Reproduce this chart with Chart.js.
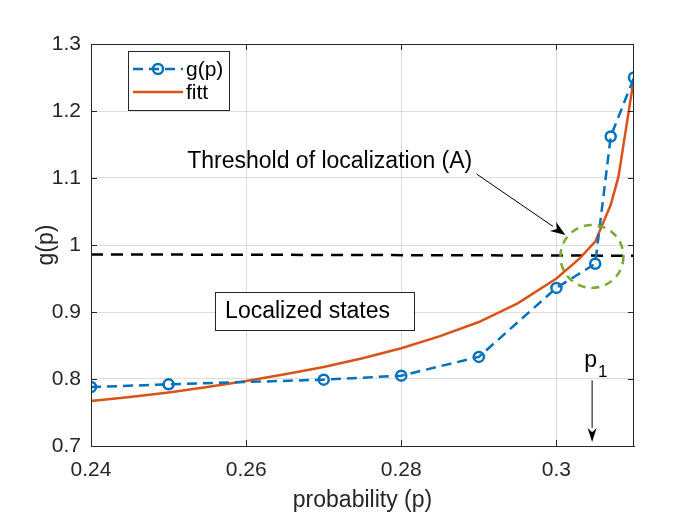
<!DOCTYPE html>
<html>
<head>
<meta charset="utf-8">
<script src="https://cdn.jsdelivr.net/npm/chart.js@4.4.0/dist/chart.umd.min.js"></script>
<style>
  html, body { margin: 0; padding: 0; background: #fff; }
  #wrap { width: 700px; height: 525px; }
</style>
</head>
<body>
<div id="wrap"><canvas id="chart"></canvas></div>
<script>
// données
const probabilite = [0.24, 0.25, 0.27, 0.28, 0.29, 0.30, 0.305, 0.307, 0.31];
const gp = [0.788, 0.792, 0.799, 0.805, 0.833, 0.936, 0.972, 1.162, 1.250];

// courbe ajustée (fitt)
const fitX = [0.24, 0.245, 0.25, 0.255, 0.26, 0.265, 0.27, 0.275, 0.28, 0.285, 0.29, 0.295, 0.30, 0.303, 0.305, 0.307, 0.308, 0.31];
const fitY = [0.767, 0.773, 0.780, 0.788, 0.797, 0.807, 0.818, 0.831, 0.846, 0.864, 0.885, 0.913, 0.950, 0.980, 1.005, 1.060, 1.102, 1.250];

// seuil de localisation (ligne pointillée noire)
const seuilX = [0.24, 0.31];
const seuilY = [0.986, 0.984];

const xTicks = [0.24, 0.26, 0.28, 0.30];
const yTicks = [0.7, 0.8, 0.9, 1.0, 1.1, 1.2, 1.3];

// annotations (en unités des données)
const cercle = { x: 0.30458, y: 0.983, r: 31.5 };
const flecheA = { x1: 0.2897, y1: 1.106, x2: 0.30116, y2: 1.015 };
const texteA = { x: 0.2524, y: 1.124, text: 'Threshold of localization (A)' };
const boiteLoc = { x1: 0.256, y1: 0.930, x2: 0.2817, y2: 0.873, text: 'Localized states' };
const flecheP1 = { x: 0.3046, y1: 0.798, y2: 0.706 };
const texteP1 = { x: 0.3046, y: 0.827 };

const BLEU = '#0072BD';
const ORANGE = '#D95319';
const VERT = '#77AC30';
const AXE = '#262626';
const POLICE = '"Liberation Sans", Arial, sans-serif';

function toPts(xs, ys) {
  return xs.map((x, i) => ({ x: x, y: ys[i] }));
}

function fleche(ctx, x1, y1, x2, y2, long, larg) {
  const ang = Math.atan2(y2 - y1, x2 - x1);
  const bx = x2 - long * Math.cos(ang), by = y2 - long * Math.sin(ang);
  ctx.beginPath();
  ctx.moveTo(x1, y1);
  ctx.lineTo(bx, by);
  ctx.stroke();
  ctx.beginPath();
  ctx.moveTo(x2, y2);
  ctx.lineTo(bx + larg / 2 * Math.sin(ang), by - larg / 2 * Math.cos(ang));
  ctx.lineTo(x2 - long * 0.7 * Math.cos(ang), y2 - long * 0.7 * Math.sin(ang));
  ctx.lineTo(bx - larg / 2 * Math.sin(ang), by + larg / 2 * Math.cos(ang));
  ctx.closePath();
  ctx.fill();
}

// plugin pour le cadre, les graduations internes, la légende et les annotations
const habillage = {
  id: 'habillage',
  afterDatasetsDraw(chart) {
    const ctx = chart.ctx;
    const a = chart.chartArea;
    const sx = chart.scales.x, sy = chart.scales.y;
    ctx.save();

    // cadre + graduations vers l'intérieur
    ctx.strokeStyle = AXE;
    ctx.lineWidth = 1;
    ctx.setLineDash([]);
    ctx.strokeRect(a.left + 0.5, a.top + 0.5, a.right - a.left - 1, a.bottom - a.top);
    ctx.beginPath();
    xTicks.forEach(v => {
      const px = Math.round(sx.getPixelForValue(v)) + 0.5;
      ctx.moveTo(px, a.bottom); ctx.lineTo(px, a.bottom - 6);
      ctx.moveTo(px, a.top); ctx.lineTo(px, a.top + 6);
    });
    yTicks.forEach(v => {
      const py = Math.round(sy.getPixelForValue(v)) + 0.5;
      ctx.moveTo(a.left, py); ctx.lineTo(a.left + 6, py);
      ctx.moveTo(a.right, py); ctx.lineTo(a.right - 6, py);
    });
    ctx.stroke();

    // cercle vert pointillé
    ctx.strokeStyle = VERT;
    ctx.lineWidth = 2.5;
    ctx.setLineDash([8, 6]);
    ctx.beginPath();
    ctx.arc(sx.getPixelForValue(cercle.x), sy.getPixelForValue(cercle.y), cercle.r, 0, Math.PI * 2);
    ctx.stroke();
    ctx.setLineDash([]);

    // texte + flèche A
    ctx.fillStyle = '#000';
    ctx.strokeStyle = '#000';
    ctx.lineWidth = 1;
    ctx.font = '23px ' + POLICE;
    ctx.textAlign = 'left';
    ctx.textBaseline = 'middle';
    ctx.fillText(texteA.text, sx.getPixelForValue(texteA.x), sy.getPixelForValue(texteA.y));
    fleche(ctx, sx.getPixelForValue(flecheA.x1), sy.getPixelForValue(flecheA.y1),
      sx.getPixelForValue(flecheA.x2), sy.getPixelForValue(flecheA.y2), 15, 11);

    // boîte "Localized states"
    const bx1 = sx.getPixelForValue(boiteLoc.x1), bx2 = sx.getPixelForValue(boiteLoc.x2);
    const by1 = sy.getPixelForValue(boiteLoc.y1), by2 = sy.getPixelForValue(boiteLoc.y2);
    ctx.fillStyle = '#fff';
    ctx.fillRect(bx1, by1, bx2 - bx1, by2 - by1);
    ctx.strokeStyle = AXE;
    ctx.strokeRect(Math.round(bx1) + 0.5, Math.round(by1) + 0.5, Math.round(bx2 - bx1), Math.round(by2 - by1));
    ctx.fillStyle = '#000';
    ctx.textAlign = 'left';
    ctx.fillText(boiteLoc.text, bx1 + 10, (by1 + by2) / 2 + 1);

    // p1 + flèche
    const px1 = sx.getPixelForValue(texteP1.x), py1 = sy.getPixelForValue(texteP1.y);
    ctx.textAlign = 'right';
    ctx.fillText('p', px1 + 5, py1);
    ctx.textAlign = 'left';
    ctx.font = '17px ' + POLICE;
    ctx.fillText('1', px1 + 6, py1 + 11);
    ctx.strokeStyle = '#000';
    fleche(ctx, sx.getPixelForValue(flecheP1.x), sy.getPixelForValue(flecheP1.y1),
      sx.getPixelForValue(flecheP1.x), sy.getPixelForValue(flecheP1.y2), 14, 9);

    // légende
    const lx = a.left + 37, ly = a.top + 7;
    ctx.fillStyle = '#fff';
    ctx.fillRect(lx, ly, 101, 59);
    ctx.strokeStyle = AXE;
    ctx.strokeRect(lx + 0.5, ly + 0.5, 101, 59);
    ctx.font = '21px ' + POLICE;
    ctx.textAlign = 'left';
    ctx.textBaseline = 'middle';
    const ds = chart.data.datasets;
    [0, 1].forEach((k, i) => {
      const yy = ly + 18 + i * 23;
      ctx.strokeStyle = ds[k].borderColor;
      ctx.lineWidth = 2.5;
      ctx.setLineDash(ds[k].borderDash || []);
      ctx.beginPath();
      ctx.moveTo(lx + 5, yy); ctx.lineTo(lx + 55, yy);
      ctx.stroke();
      ctx.setLineDash([]);
      if (ds[k].pointRadius) {
        ctx.beginPath();
        ctx.arc(lx + 30, yy, 5, 0, Math.PI * 2);
        ctx.stroke();
      }
      ctx.fillStyle = '#000';
      ctx.fillText(ds[k].label, lx + 58, yy + 1);
    });

    ctx.restore();
  }
};

const ctx = document.getElementById('chart');
new Chart(ctx, {
  type: 'scatter',
  data: {
    datasets: [
      {
        label: 'g(p)',
        data: toPts(probabilite, gp),
        showLine: true,
        borderColor: BLEU,
        backgroundColor: 'rgba(0,0,0,0)',
        borderWidth: 2.5,
        borderDash: [10, 6],
        pointRadius: 5,
        pointBorderWidth: 2.5,
        pointBorderColor: BLEU,
        pointBackgroundColor: 'rgba(0,0,0,0)',
        order: 1
      },
      {
        label: 'fitt',
        data: toPts(fitX, fitY),
        showLine: true,
        borderColor: ORANGE,
        borderWidth: 2.5,
        pointRadius: 0,
        order: 2
      },
      {
        label: 'seuil',
        data: toPts(seuilX, seuilY),
        showLine: true,
        borderColor: '#000',
        borderWidth: 2.5,
        borderDash: [12, 8],
        pointRadius: 0,
        order: 3
      }
    ]
  },
  options: {
    responsive: true,
    maintainAspectRatio: false,
    animation: false,
    layout: { padding: { left: 0, right: 66, top: 44, bottom: 0 } },
    plugins: {
      legend: { display: false },
      tooltip: { enabled: false }
    },
    scales: {
      x: {
        type: 'linear',
        min: 0.24,
        max: 0.31,
        afterBuildTicks: s => { s.ticks = xTicks.map(v => ({ value: v })); },
        afterFit: s => { s.height = 79; },
        ticks: {
          color: AXE,
          font: { family: POLICE, size: 21 },
          padding: 12,
          maxRotation: 0,
          callback: v => String(Math.round(v * 100) / 100)
        },
        grid: { color: 'rgba(0,0,0,0.13)', drawTicks: false, tickLength: 0 },
        border: { color: AXE },
        title: {
          display: true,
          text: 'probability (p)',
          color: AXE,
          font: { family: POLICE, size: 23 },
          padding: { top: 0, bottom: 11 }
        }
      },
      y: {
        type: 'linear',
        min: 0.7,
        max: 1.3,
        afterBuildTicks: s => { s.ticks = yTicks.map(v => ({ value: v })); },
        afterFit: s => { s.width = 91; },
        ticks: {
          color: AXE,
          font: { family: POLICE, size: 21 },
          padding: 10,
          callback: v => String(Math.round(v * 10) / 10)
        },
        grid: { color: 'rgba(0,0,0,0.13)', drawTicks: false, tickLength: 0 },
        border: { color: AXE },
        title: {
          display: true,
          text: 'g(p)',
          color: AXE,
          font: { family: POLICE, size: 23 },
          padding: { top: 33, bottom: 0 }
        }
      }
    }
  },
  plugins: [habillage]
});
</script>
</body>
</html>
